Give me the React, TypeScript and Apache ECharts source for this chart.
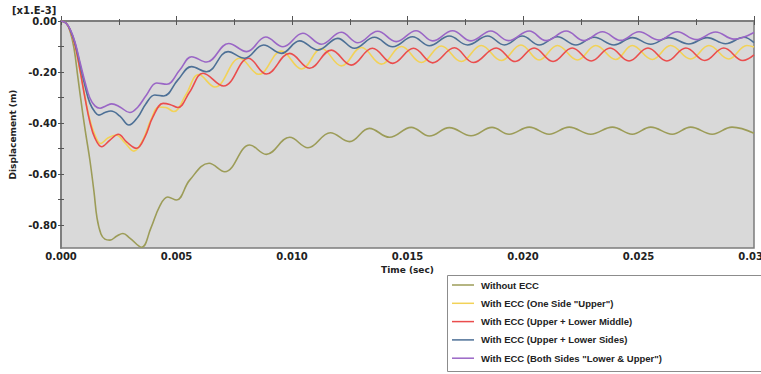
import React, { useEffect, useRef } from "react";
import * as echarts from "echarts";

// Displacement values in units of 1e-3 m, time in seconds
const withoutEcc: [number, number][] = [
  [0, 0], [0.000216, -0.008], [0.000389, -0.039], [0.000562, -0.106], [0.000735, -0.224],
  [0.000951, -0.369], [0.00108, -0.447], [0.00125, -0.545], [0.00143, -0.671], [0.00156, -0.773],
  [0.00173, -0.835], [0.0019, -0.855], [0.00212, -0.859], [0.00242, -0.843], [0.00268, -0.833],
  [0.00298, -0.851], [0.00349, -0.887], [0.00389, -0.812], [0.00428, -0.725], [0.00462, -0.69],
  [0.005, -0.702], [0.00557, -0.624], [0.00641, -0.558], [0.00709, -0.591], [0.00817, -0.486],
  [0.00889, -0.523], [0.0099, -0.456], [0.01069, -0.497], [0.01166, -0.438], [0.01249, -0.473],
  [0.01335, -0.421], [0.01422, -0.456], [0.01516, -0.417], [0.01595, -0.451], [0.01681, -0.418],
  [0.01775, -0.45], [0.01866, -0.417], [0.0194, -0.444], [0.02027, -0.416], [0.02113, -0.444],
  [0.022, -0.416], [0.02293, -0.444], [0.02387, -0.416], [0.02473, -0.444], [0.02553, -0.416],
  [0.02646, -0.444], [0.02726, -0.416], [0.02819, -0.444], [0.02905, -0.416], [0.03, -0.44],
];

const oneSideUpper: [number, number][] = [
  [0, 0], [0.000216, -0.008], [0.000389, -0.035], [0.000605, -0.094], [0.000821, -0.192],
  [0.00104, -0.298], [0.00125, -0.388], [0.00147, -0.447], [0.00171, -0.48], [0.00203, -0.459],
  [0.00238, -0.447], [0.00277, -0.478], [0.00315, -0.51], [0.00354, -0.467], [0.00389, -0.388],
  [0.00424, -0.337], [0.00454, -0.339], [0.00488, -0.355], [0.0054, -0.29], [0.00596, -0.21],
  [0.00666, -0.259], [0.00774, -0.146], [0.00856, -0.209], [0.00954, -0.118], [0.01041, -0.188],
  [0.01128, -0.108], [0.01214, -0.176], [0.01301, -0.104], [0.01387, -0.169], [0.01474, -0.1],
  [0.0156, -0.163], [0.01646, -0.098], [0.01733, -0.159], [0.01819, -0.096], [0.01906, -0.155],
  [0.01991, -0.094], [0.0207, -0.153], [0.02149, -0.096], [0.02236, -0.153], [0.02315, -0.096],
  [0.02401, -0.151], [0.02473, -0.096], [0.0256, -0.151], [0.02639, -0.096], [0.02726, -0.149],
  [0.02805, -0.096], [0.02891, -0.149], [0.02969, -0.096], [0.03, -0.102],
];

const upperLowerMiddle: [number, number][] = [
  [0, 0], [0.000216, -0.008], [0.000389, -0.035], [0.000605, -0.094], [0.000821, -0.192],
  [0.00104, -0.302], [0.00125, -0.396], [0.00147, -0.459], [0.00176, -0.493], [0.00212, -0.467],
  [0.00248, -0.444], [0.00285, -0.475], [0.00327, -0.499], [0.00363, -0.455], [0.00398, -0.376],
  [0.00442, -0.323], [0.00471, -0.327], [0.00506, -0.339], [0.00557, -0.278], [0.00615, -0.205],
  [0.00704, -0.255], [0.00812, -0.146], [0.00889, -0.208], [0.0099, -0.127], [0.01076, -0.185],
  [0.0117, -0.114], [0.01256, -0.173], [0.01348, -0.107], [0.01436, -0.166], [0.01526, -0.107],
  [0.01609, -0.164], [0.01703, -0.105], [0.01785, -0.163], [0.01884, -0.106], [0.01966, -0.159],
  [0.02048, -0.106], [0.0213, -0.159], [0.02213, -0.106], [0.02295, -0.157], [0.02377, -0.106],
  [0.02459, -0.157], [0.02541, -0.106], [0.02623, -0.157], [0.02705, -0.106], [0.02787, -0.155],
  [0.02869, -0.106], [0.02952, -0.155], [0.03, -0.133],
];

const upperLowerSides: [number, number][] = [
  [0, 0], [0.000216, -0.008], [0.000389, -0.033], [0.000605, -0.086], [0.000821, -0.169],
  [0.00104, -0.255], [0.00125, -0.322], [0.00147, -0.357], [0.00164, -0.369], [0.0019, -0.359],
  [0.00216, -0.353], [0.00255, -0.373], [0.00294, -0.408], [0.00333, -0.376], [0.00367, -0.325],
  [0.00406, -0.29], [0.00445, -0.294], [0.00506, -0.231], [0.00565, -0.179], [0.0063, -0.199],
  [0.00723, -0.12], [0.00795, -0.146], [0.00877, -0.094], [0.00954, -0.127], [0.01033, -0.078],
  [0.01112, -0.114], [0.01198, -0.068], [0.0127, -0.107], [0.01357, -0.064], [0.01436, -0.101],
  [0.01522, -0.062], [0.01595, -0.097], [0.01681, -0.059], [0.0176, -0.094], [0.01847, -0.059],
  [0.01919, -0.094], [0.01997, -0.059], [0.0207, -0.094], [0.02149, -0.062], [0.02229, -0.094],
  [0.02308, -0.064], [0.02394, -0.094], [0.02473, -0.065], [0.02553, -0.091], [0.02632, -0.065],
  [0.02718, -0.09], [0.02797, -0.065], [0.02877, -0.089], [0.02956, -0.064], [0.03, -0.085],
];

const bothSides: [number, number][] = [
  [0, 0], [0.000216, -0.008], [0.000389, -0.031], [0.000605, -0.082], [0.000821, -0.161],
  [0.00104, -0.239], [0.00125, -0.302], [0.00147, -0.333], [0.00169, -0.342], [0.00194, -0.333],
  [0.0022, -0.325], [0.00255, -0.337], [0.00298, -0.359], [0.00333, -0.337], [0.0037, -0.29],
  [0.00414, -0.243], [0.00458, -0.248], [0.00514, -0.192], [0.00566, -0.14], [0.0063, -0.161],
  [0.00726, -0.088], [0.00804, -0.12], [0.00886, -0.063], [0.00961, -0.101], [0.01047, -0.048],
  [0.01127, -0.091], [0.01213, -0.044], [0.01285, -0.085], [0.01371, -0.04], [0.01451, -0.081],
  [0.01537, -0.038], [0.01609, -0.078], [0.01695, -0.038], [0.01775, -0.078], [0.01861, -0.039],
  [0.01936, -0.077], [0.02027, -0.039], [0.021, -0.077], [0.02187, -0.039], [0.02264, -0.077],
  [0.02344, -0.042], [0.02423, -0.076], [0.02502, -0.042], [0.02589, -0.075], [0.02668, -0.042],
  [0.02749, -0.073], [0.02834, -0.043], [0.02913, -0.071], [0.03, -0.045],
];

const seriesNames = [
  "Without ECC",
  'With ECC (One Side "Upper")',
  "With ECC (Upper + Lower Middle)",
  "With ECC (Upper + Lower Sides)",
  'With ECC (Both Sides "Lower & Upper")',
];
const seriesData = [withoutEcc, oneSideUpper, upperLowerMiddle, upperLowerSides, bothSides];
const seriesColors = ["#9c9c58", "#f2d257", "#ea4d4d", "#4d7096", "#9a66c6"];

const xMin = 0;
const xMax = 0.03;
const xStep = 0.005;
const yMin = -0.89;
const yMax = 0;
const yLabelValues = [0, -0.2, -0.4, -0.6, -0.8];
const yTickValues = [0, -0.1, -0.2, -0.3, -0.4, -0.5, -0.6, -0.7, -0.8];

const boldFont = "DejaVu Sans";

export default function App() {
  const ref = useRef<HTMLDivElement>(null);
  useEffect(() => {
    if (!ref.current) return;
    const chart = echarts.init(ref.current, undefined, { renderer: "svg" });
    const axisLine = { show: true, lineStyle: { color: "#7c7c7c", width: 1.5 } };
    const option: any = {
      animation: false,
      backgroundColor: "#ffffff",
      grid: {
        left: 61,
        top: 21,
        width: 693,
        height: 227,
        show: true,
        containLabel: false,
        outerBoundsMode: "none",
        backgroundColor: "#d9d9d9",
        borderColor: "#7c7c7c",
        borderWidth: 1.5,
      },
      xAxis: [
        {
          type: "value",
          position: "bottom",
          min: xMin,
          max: xMax,
          interval: xStep,
          axisLine,
          splitLine: { show: false },
          axisTick: { show: true, inside: true, length: 5, lineStyle: { color: "#555" } },
          minorTick: { show: true, splitNumber: 2, length: 2, lineStyle: { color: "#555" } },
          axisLabel: {
            formatter: (v: number) => v.toFixed(3),
            fontFamily: boldFont,
            fontWeight: "bold",
            fontSize: 10,
            color: "#222",
            margin: 3,
          },
          name: "Time (sec)",
          nameLocation: "middle",
          nameGap: 14,
          nameTextStyle: { fontFamily: boldFont, fontWeight: "bold", fontSize: 9, color: "#222" },
        },
        {
          type: "value",
          position: "top",
          min: xMin,
          max: xMax,
          interval: xStep / 2,
          axisLine,
          splitLine: { show: false },
          axisTick: { show: true, inside: true, length: 4, lineStyle: { color: "#555" } },
          axisLabel: { show: false },
        },
      ],
      yAxis: [
        {
          type: "value",
          position: "left",
          min: yMin,
          max: yMax,
          axisLine,
          splitLine: { show: false },
          axisTick: {
            show: true,
            inside: true,
            length: 3,
            customValues: yTickValues,
            lineStyle: { color: "#555" },
          },
          axisLabel: {
            customValues: yLabelValues,
            formatter: (v: number) => (Math.abs(v) < 1e-9 ? "0.00" : v.toFixed(2)),
            fontFamily: boldFont,
            fontWeight: "bold",
            fontSize: 10,
            color: "#222",
            margin: 4,
          },
          name: "Displacement (m)",
          nameLocation: "middle",
          nameGap: 38,
          nameRotate: 90,
          nameTextStyle: { fontFamily: boldFont, fontWeight: "bold", fontSize: 9, color: "#222" },
        },
        {
          type: "value",
          position: "right",
          min: yMin,
          max: yMax,
          axisLine,
          splitLine: { show: false },
          axisTick: {
            show: true,
            inside: true,
            length: 3,
            customValues: yTickValues,
            lineStyle: { color: "#555" },
          },
          axisLabel: { show: false },
        },
      ],
      legend: {
        orient: "vertical",
        left: 452,
        top: 279,
        padding: 0,
        icon: "rect",
        itemWidth: 22,
        itemHeight: 1.5,
        itemGap: 6.3,
        data: seriesNames,
        textStyle: {
          fontFamily: "Liberation Sans",
          fontWeight: "bold",
          fontSize: 9.5,
          color: "#222",
          lineHeight: 12,
          padding: [0, 0, 0, 2],
        },
      },
      graphic: [
        {
          type: "text",
          left: 12,
          top: 5,
          style: {
            text: "[x1.E-3]",
            font: `bold 10px '${boldFont}'`,
            fill: "#222",
          },
        },
        {
          type: "rect",
          shape: { x: 447.5, y: 275.5, width: 330, height: 96 },
          style: { fill: "none", stroke: "#8c8c8c", lineWidth: 1 },
          silent: true,
        },
      ],
      series: seriesNames.map((name, i) => ({
        name,
        type: "line",
        xAxisIndex: 0,
        yAxisIndex: 0,
        data: seriesData[i],
        showSymbol: false,
        symbol: "none",
        smooth: 0.4,
        lineStyle: { color: seriesColors[i], width: 1.6 },
        itemStyle: { color: seriesColors[i] },
      })),
    };
    chart.setOption(option);
    return () => chart.dispose();
  }, []);
  return (
    <div
      ref={ref}
      style={{ position: "fixed", left: 0, top: 0, width: 761, height: 374, background: "#fff" }}
    />
  );
}
